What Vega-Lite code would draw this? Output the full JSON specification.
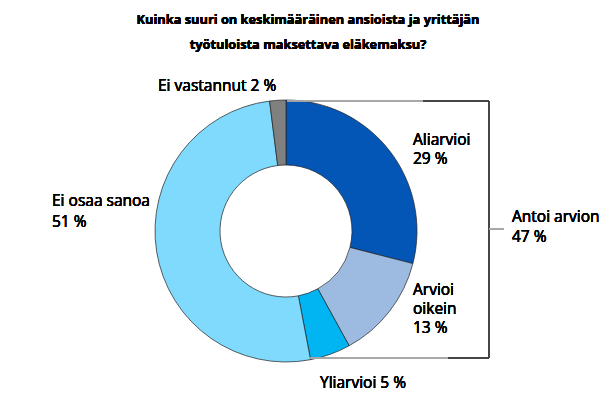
{
  "$schema": "https://vega.github.io/schema/vega-lite/v6.json",
  "width": 616,
  "height": 405,
  "autosize": {"type": "fit", "contains": "padding"},
  "padding": 0,
  "background": "white",
  "config": {"view": {"stroke": null}, "text": {"font": "Open Sans", "fontSize": 15.5, "fontWeight": "normal", "color": "black", "align": "left", "baseline": "middle"}},
  "data": {
    "values": [
      {"n": 1, "vastaus": "Aliarvioi", "prosentti": 29},
      {"n": 2, "vastaus": "Arvioi oikein", "prosentti": 13},
      {"n": 3, "vastaus": "Yliarvioi", "prosentti": 5},
      {"n": 4, "vastaus": "Ei osaa sanoa", "prosentti": 51},
      {"n": 5, "vastaus": "Ei vastannut", "prosentti": 2}
    ]
  },
  "encoding": {
    "x": {"scale": {"domain": [-286, 330], "nice": false, "zero": false}, "axis": null},
    "y": {"scale": {"domain": [-174, 231], "nice": false, "zero": false}, "axis": null}
  },
  "layer": [
    {
      "mark": {"type": "arc", "radius": 131, "radius2": 66, "stroke": "#1f1f1f", "strokeWidth": 0.7},
      "encoding": {
        "x": {"datum": 0, "type": "quantitative"},
        "y": {"datum": 0, "type": "quantitative"},
        "theta": {"field": "prosentti", "type": "quantitative", "stack": true},
        "order": {"field": "n", "type": "quantitative"},
        "color": {
          "field": "vastaus",
          "type": "nominal",
          "legend": null,
          "scale": {
            "domain": ["Aliarvioi", "Arvioi oikein", "Yliarvioi", "Ei osaa sanoa", "Ei vastannut"],
            "range": ["#0456B6", "#9DBBE1", "#00B5F2", "#80DAFE", "#808080"]
          }
        }
      }
    },
    {
      "mark": {"type": "rule", "color": "#A6A6A6", "strokeWidth": 1},
      "encoding": {"x": {"datum": 1, "type": "quantitative"}, "x2": {"datum": 137}, "y": {"datum": 130, "type": "quantitative"}}
    },
    {
      "mark": {"type": "rule", "color": "#404040", "strokeWidth": 1},
      "encoding": {"x": {"datum": 137, "type": "quantitative"}, "x2": {"datum": 203}, "y": {"datum": 130, "type": "quantitative"}}
    },
    {
      "mark": {"type": "rule", "color": "#404040", "strokeWidth": 1},
      "encoding": {"x": {"datum": 203, "type": "quantitative"}, "y": {"datum": 130, "type": "quantitative"}, "y2": {"datum": -127}}
    },
    {
      "mark": {"type": "rule", "color": "#A6A6A6", "strokeWidth": 1},
      "encoding": {"x": {"datum": 24, "type": "quantitative"}, "x2": {"datum": 162}, "y": {"datum": -127, "type": "quantitative"}}
    },
    {
      "mark": {"type": "rule", "color": "#404040", "strokeWidth": 1},
      "encoding": {"x": {"datum": 162, "type": "quantitative"}, "x2": {"datum": 203}, "y": {"datum": -127, "type": "quantitative"}}
    },
    {
      "mark": {"type": "rule", "color": "#A6A6A6", "strokeWidth": 1},
      "encoding": {"x": {"datum": 203, "type": "quantitative"}, "x2": {"datum": 218}, "y": {"datum": 2, "type": "quantitative"}}
    },
    {
      "mark": {"type": "text", "align": "center", "fontWeight": "bold", "fontSize": 12.8, "text": "Kuinka suuri on keskimääräinen ansioista ja yrittäjän"},
      "encoding": {"x": {"datum": 22, "type": "quantitative"}, "y": {"datum": 211, "type": "quantitative"}}
    },
    {
      "mark": {"type": "text", "align": "center", "fontWeight": "bold", "fontSize": 12.8, "text": "työtuloista maksettava eläkemaksu?"},
      "encoding": {"x": {"datum": 22, "type": "quantitative"}, "y": {"datum": 186, "type": "quantitative"}}
    },
    {
      "mark": {"type": "text", "text": "Ei vastannut 2 %"},
      "encoding": {"x": {"datum": -128, "type": "quantitative"}, "y": {"datum": 145, "type": "quantitative"}}
    },
    {
      "mark": {"type": "text", "text": "Aliarvioi"},
      "encoding": {"x": {"datum": 127, "type": "quantitative"}, "y": {"datum": 91, "type": "quantitative"}}
    },
    {
      "mark": {"type": "text", "text": "29 %"},
      "encoding": {"x": {"datum": 127, "type": "quantitative"}, "y": {"datum": 72, "type": "quantitative"}}
    },
    {
      "mark": {"type": "text", "text": "Arvioi"},
      "encoding": {"x": {"datum": 127, "type": "quantitative"}, "y": {"datum": -59, "type": "quantitative"}}
    },
    {
      "mark": {"type": "text", "text": "oikein"},
      "encoding": {"x": {"datum": 127, "type": "quantitative"}, "y": {"datum": -78, "type": "quantitative"}}
    },
    {
      "mark": {"type": "text", "text": "13 %"},
      "encoding": {"x": {"datum": 127, "type": "quantitative"}, "y": {"datum": -97, "type": "quantitative"}}
    },
    {
      "mark": {"type": "text", "text": "Antoi arvion"},
      "encoding": {"x": {"datum": 226, "type": "quantitative"}, "y": {"datum": 14, "type": "quantitative"}}
    },
    {
      "mark": {"type": "text", "text": "47 %"},
      "encoding": {"x": {"datum": 226, "type": "quantitative"}, "y": {"datum": -6, "type": "quantitative"}}
    },
    {
      "mark": {"type": "text", "text": "Yliarvioi 5 %"},
      "encoding": {"x": {"datum": 34, "type": "quantitative"}, "y": {"datum": -152, "type": "quantitative"}}
    },
    {
      "mark": {"type": "text", "text": "Ei osaa sanoa"},
      "encoding": {"x": {"datum": -234, "type": "quantitative"}, "y": {"datum": 30, "type": "quantitative"}}
    },
    {
      "mark": {"type": "text", "text": "51 %"},
      "encoding": {"x": {"datum": -234, "type": "quantitative"}, "y": {"datum": 9, "type": "quantitative"}}
    }
  ]
}
